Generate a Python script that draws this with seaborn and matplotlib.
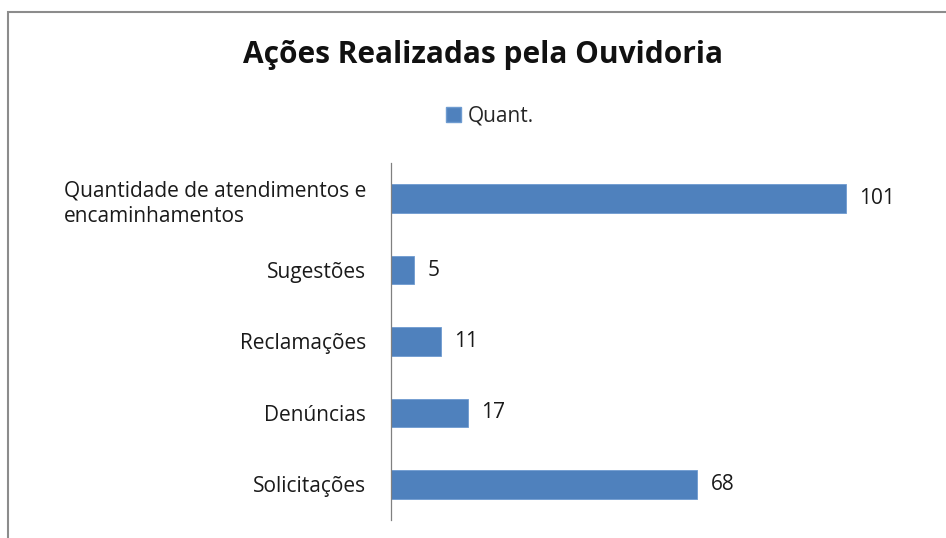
import matplotlib
matplotlib.use("Agg")
import matplotlib.pyplot as plt
import seaborn as sns
import pandas as pd
from matplotlib.patches import Rectangle, Patch

# Data
categories = ["Quantidade de atendimentos e\nencaminhamentos", "Sugestões",
              "Reclamações", "Denúncias", "Solicitações"]
values = [101, 5, 11, 17, 68]
series_name = "Quant."

sns.set_style("white")
plt.rcParams['font.family'] = ['Open Sans', 'DejaVu Sans']

df = pd.DataFrame({"categoria": categories, "valor": values})

fig = plt.figure(figsize=(9.46, 5.38), dpi=100)
ax = fig.add_axes([391 / 946, 18 / 538, 495 / 946, 357 / 538])

sns.barplot(data=df, x="valor", y="categoria", orient="h", color="#4F81BD",
            width=0.4, saturation=1, ax=ax, edgecolor="#6E9BD0", linewidth=0.6)

ax.set_xlim(0, 110)
ax.set_ylim(4.5, -0.5)
ax.set_xlabel("")
ax.set_ylabel("")
ax.set_xticks([])
for side in ["top", "right", "bottom"]:
    ax.spines[side].set_visible(False)
ax.spines["left"].set_color("#808080")
ax.spines["left"].set_linewidth(0.9)
ax.tick_params(axis="y", length=0, pad=18, labelsize=15, labelcolor="#1a1a1a")
for lbl in ax.get_yticklabels():
    lbl.set_multialignment("left")
    lbl.set_linespacing(1.3)

# Value labels
for i, v in enumerate(values):
    ax.annotate(str(v), (v, i), xytext=(10, 0), textcoords="offset points",
                va="center", ha="left", fontsize=15, color="#1a1a1a")

# Title and legend
fig.text(483 / 946, 1 - 55 / 538, "Ações Realizadas pela Ouvidoria", ha="center",
         va="center", fontsize=21.5, fontweight="bold", color="#111111")
fig.legend(handles=[Patch(facecolor="#4F81BD", edgecolor="#6E9BD0", label=series_name)],
           loc="center", bbox_to_anchor=(490 / 946, 1 - 116 / 538), frameon=False,
           fontsize=15, handlelength=0.7, handleheight=0.7, handletextpad=0.35)

# Chart border (cut at right and bottom like the reference)
fig.add_artist(Rectangle((8 / 946, -0.1), 1.1, 1 - 12 / 538 + 0.1,
                         transform=fig.transFigure, fill=False,
                         edgecolor="#8c8c8c", linewidth=1.5))

fig.savefig("out.png", dpi=100, facecolor="white")
